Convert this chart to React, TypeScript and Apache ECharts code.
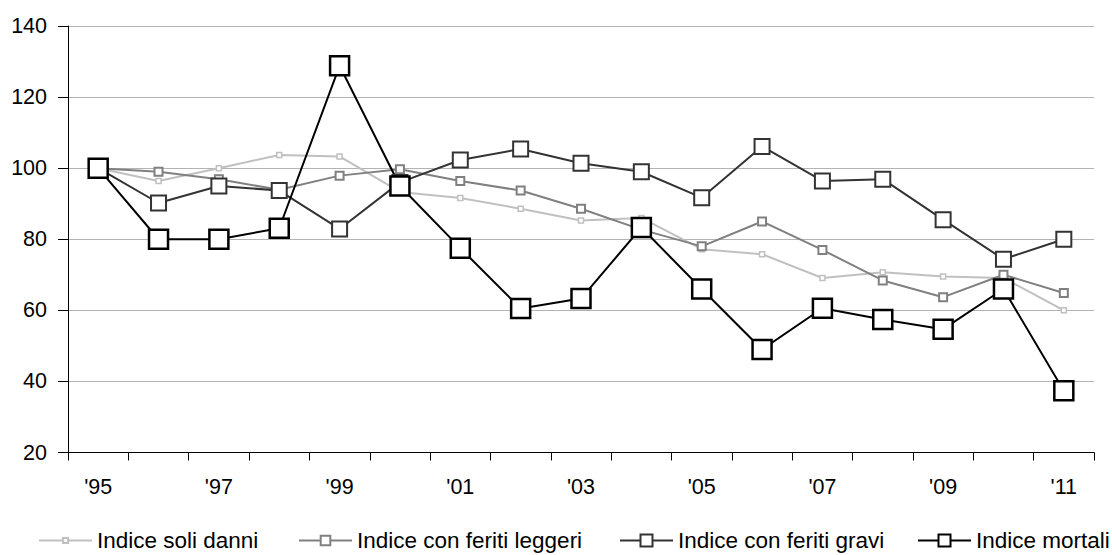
import React, { useEffect, useRef } from "react";
import * as echarts from "echarts";

const years = ["'95", "'96", "'97", "'98", "'99", "'00", "'01", "'02", "'03", "'04", "'05", "'06", "'07", "'08", "'09", "'10", "'11"];
const soliDanni = [100, 96.4, 100, 103.7, 103.3, 93.3, 91.6, 88.6, 85.3, 86, 77.2, 75.8, 69.1, 70.7, 69.5, 69.1, 60];
const feritiLeggeri = [100, 99, 96.9, 93.9, 97.9, 99.7, 96.4, 93.7, 88.6, 82.7, 78, 85, 77, 68.4, 63.7, 70, 64.9];
const feritiGravi = [100, 90.2, 95, 93.7, 82.9, 96, 102.3, 105.4, 101.4, 99, 91.7, 106.1, 96.4, 96.9, 85.5, 74.4, 80];
const mortali = [100, 80, 80, 83.1, 128.8, 95, 77.5, 60.5, 63.3, 83.3, 66, 49, 60.6, 57.4, 54.7, 66, 37.4];
const seriesNames = ["Indice soli danni", "Indice con feriti leggeri", "Indice con feriti gravi", "Indice mortali"];

const FONT = "'Liberation Sans', Arial, sans-serif";

export default function App() {
  const ref = useRef<HTMLDivElement>(null);
  useEffect(() => {
    document.body.style.margin = "0";
    const chart = echarts.init(ref.current!, null, { renderer: "svg" });
    const mk = (name: string, data: number[], color: string, size: number, lw: number, bw: number) => ({
      name,
      type: "line",
      data,
      symbol: "rect",
      symbolSize: size,
      showAllSymbol: true,
      lineStyle: { color, width: lw },
      itemStyle: { color: "#ffffff", borderColor: color, borderWidth: bw },
      emphasis: { disabled: true },
    });
    const legendLefts = [33, 293, 614, 912];
    const legendHeights = [6.5, 12, 15, 15];
    const legends = seriesNames.map((n, i) => ({
      left: legendLefts[i],
      top: 524,
      itemWidth: 53,
      itemHeight: legendHeights[i],
      textStyle: { fontSize: 22.5, color: "#000", fontFamily: FONT },
      data: [n],
    }));
    chart.setOption({
      animation: false,
      backgroundColor: "#ffffff",
      textStyle: { fontFamily: FONT },
      grid: { left: 68, right: 18, top: 26, bottom: 102.5 },
      legend: legends,
      xAxis: {
        type: "category",
        data: years,
        boundaryGap: true,
        axisLine: { lineStyle: { color: "#000", width: 1 } },
        axisTick: { show: true, interval: 0, length: 8, lineStyle: { color: "#000" } },
        axisLabel: { interval: 1, fontSize: 21.5, color: "#000", margin: 23, fontFamily: FONT },
        splitLine: { show: false },
      },
      yAxis: {
        type: "value",
        min: 20,
        max: 140,
        interval: 20,
        axisLine: { show: true, lineStyle: { color: "#000", width: 1 } },
        axisTick: { show: true, length: 10, lineStyle: { color: "#000" } },
        axisLabel: { fontSize: 21.5, color: "#000", margin: 21, fontFamily: FONT },
        splitLine: { show: true, lineStyle: { color: "#b3b3b3", width: 1 } },
      },
      series: [
        mk(seriesNames[0], soliDanni, "#c0c0c0", 5, 2, 1.5),
        mk(seriesNames[1], feritiLeggeri, "#808080", 8, 2, 2),
        mk(seriesNames[2], feritiGravi, "#333333", 15, 2, 2),
        mk(seriesNames[3], mortali, "#000000", 19, 2, 2.5),
      ],
    });
    return () => chart.dispose();
  }, []);
  return <div ref={ref} style={{ position: "fixed", left: 0, top: 0, width: 1112, height: 555 }} />;
}
